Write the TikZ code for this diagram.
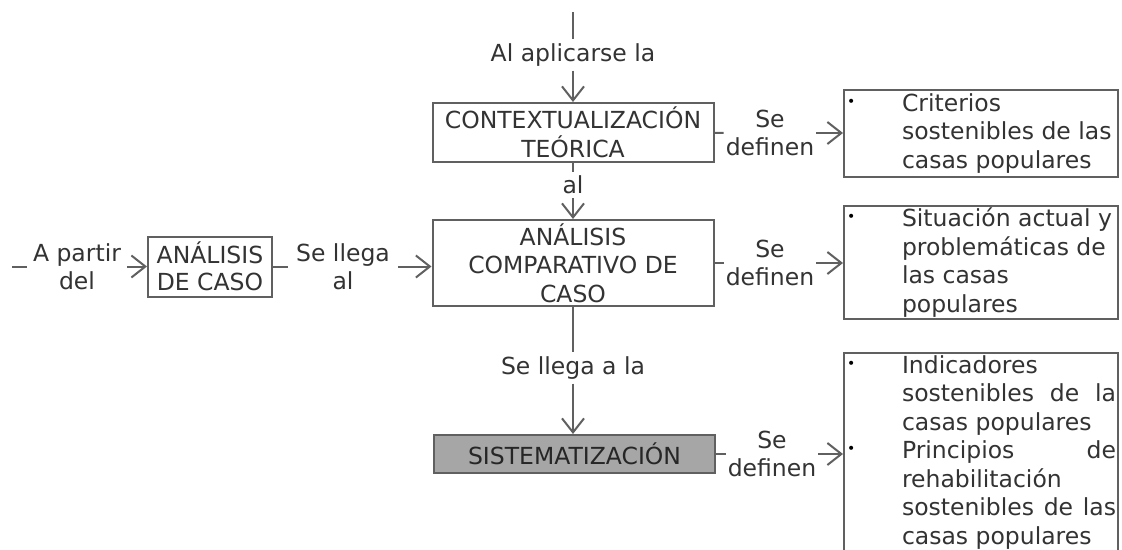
\documentclass[tikz,border=0pt]{standalone}
\usepackage{fontspec}
\setmainfont{DejaVu Sans}
\usetikzlibrary{arrows.meta}
\definecolor{lc}{HTML}{606060}
\definecolor{tc}{HTML}{333333}
\definecolor{sysfill}{HTML}{A6A6A6}
\newcommand\blt{\leavevmode\llap{\makebox[55pt][l]{\raisebox{0.22em}{\color{black}\fontsize{14}{14}\selectfont •}}}}
\newcommand\rtext[1]{\hbox to 270pt{\hspace{56pt}\parbox{214pt}{\raggedright #1}\hss}}
\newcommand\jl[1]{\makebox[\linewidth][s]{#1}}
\begin{document}
\begin{tikzpicture}[x=1pt,y=-1pt,
  every node/.style={text=tc, font=\fontsize{23.5}{28.5}\selectfont},
  box/.style={draw=lc, line width=2pt, align=center, inner sep=0pt},
  lbl/.style={align=center, inner xsep=2pt, inner ysep=4pt},
  con/.style={draw=lc, line width=2pt},
  arr/.style={con, -{Straight Barb[length=14pt,width=22pt]}}]
\clip (0,0) rectangle (1122,549);
\fill[white] (0,0) rectangle (1122,549);

% central boxes
\node[box, minimum width=281, minimum height=59] (ctx) at (573,132.5) {CONTEXTUALIZACIÓN\\TEÓRICA};
\node[box, minimum width=281, minimum height=86] (cmp) at (573,263) {ANÁLISIS\\COMPARATIVO DE\\CASO};
\node[box, fill=sysfill, minimum width=281, minimum height=38, text=black!85] (sys) at (574.5,454) {SISTEMATIZACIÓN};
\node[box, minimum width=124, minimum height=60, font=\fontsize{23.5}{27}\selectfont] (adc) at (210,266.5) {ANÁLISIS\\DE CASO};

% right boxes
\node[box, minimum width=274, minimum height=87] (r1) at (981,133.5) {\rtext{\blt Criterios\\sostenibles de las\\casas populares}};
\node[box, minimum width=274, minimum height=113] (r2) at (981,262.5) {\rtext{\blt Situación actual y\\problemáticas de\\las casas\\populares}};
\node[box, minimum width=274, minimum height=199] (r3) at (981,452.5) {\rtext{\blt Indicadores\\\jl{sostenibles de la}\\casas populares\\\blt\jl{Principios de}\\rehabilitación\\\jl{sostenibles de las}\\casas populares}};

% vertical chain
\coordinate (top) at (573,12);
\node[lbl] (l1) at (573,55) {Al aplicarse la};
\draw[con] (top) -- (l1);
\draw[arr] (l1) -- (ctx);
\node[lbl] (l2) at (573,185) {al};
\draw[con] (ctx) -- (l2);
\draw[arr] (l2) -- (cmp);
\node[lbl] (l3) at (573,368) {Se llega a la};
\draw[con] (cmp) -- (l3);
\draw[arr] (l3) -- (l3 |- sys.north);

% left chain
\coordinate (lstart) at (12,266.5);
\node[lbl, inner xsep=6pt] (l4) at (77,266.5) {A partir\\del};
\draw[con] (lstart) -- (l4);
\draw[arr] (l4) -- (adc);
\node[lbl, inner xsep=8pt] (l5) at (343,266.5) {Se llega\\al};
\draw[con] (adc) -- (l5);
\draw[arr] (l5) -- (l5 -| cmp.west);

% Se definen
\node[lbl] (d1) at (770,133) {Se\\definen};
\draw[con] (ctx) -- (d1);
\draw[arr] (d1) -- (d1 -| r1.west);
\node[lbl] (d2) at (770,263) {Se\\definen};
\draw[con] (cmp) -- (d2);
\draw[arr] (d2) -- (d2 -| r2.west);
\node[lbl] (d3) at (772,454) {Se\\definen};
\draw[con] (sys) -- (d3);
\draw[arr] (d3) -- (d3 -| r3.west);
\end{tikzpicture}
\end{document}
